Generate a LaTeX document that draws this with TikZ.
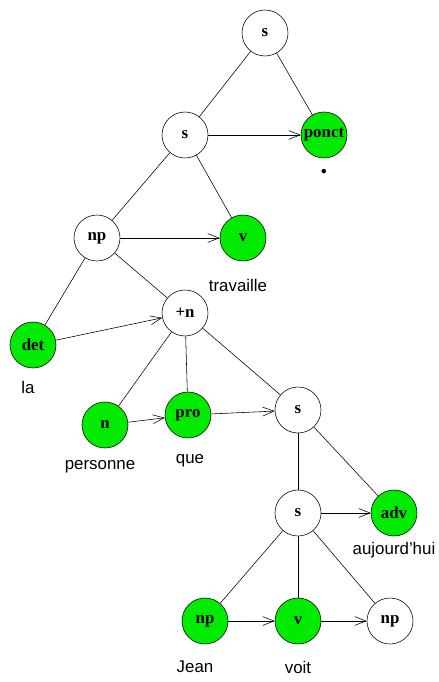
\documentclass[tikz,border=0pt]{standalone}
\usepackage{fontspec}
\setmainfont{Liberation Serif}
\setsansfont{Liberation Sans}
\usetikzlibrary{arrows.meta}

\definecolor{leafgreen}{RGB}{0,235,0}
\tikzset{
  cat/.style={circle, draw, thin, minimum size=1.15cm, inner sep=0pt,
    font=\bfseries\fontsize{12}{12}\selectfont},
  lex/.style={cat, fill=leafgreen},
  word/.style={font=\sffamily\fontsize{12}{12}\selectfont},
  dep/.style={thin},
  seq/.style={thin, -{Straight Barb[length=2.8mm,width=2.2mm]}},
}

\begin{document}
\begin{tikzpicture}[x=0.025cm, y=-0.025cm]
		\useasboundingbox (0,0) rectangle (439,682);
		% Define nodes
		\node[cat]   (s)      at (265,33)   {s};
		\node[cat]   (s2)     at (185,135)  {s};
		\node[lex]   (ponct)  at (324,135)  {ponct};
		\node[cat]   (np)     at (97,238)   {np};
		\node[lex]   (v)      at (243,238)  {v};
		\node[cat]   (plusn)  at (185,313)  {+n};
		\node[lex]   (det)    at (33,345)   {det};
		\node[lex]   (n)      at (105,425)  {n};
		\node[lex]   (pro)    at (188,415)  {pro};
		\node[cat]   (s3)     at (298,410)  {s};
		\node[cat]   (s4)     at (298,513)  {s};
		\node[lex]   (adv)    at (394,513)  {adv};
		\node[lex]   (npj)    at (205,621)  {np};
		\node[lex]   (vv)     at (298,621)  {v};
		\node[cat]   (npo)    at (390,621)  {np};
		% Words
		\node[font=\bfseries\fontsize{20}{20}\selectfont] (wponct) at (324,172) {.};
		\node[word]  (wv)     at (238,285)  {travaille};
		\node[word]  (wdet)   at (28,387)   {la};
		\node[word]  (wn)     at (100,467)  {personne};
		\node[word]  (wpro)   at (190,461)  {que};
		\node[word]  (wadv)   at (394,550)  {aujourd'hui};
		\node[word]  (wnpj)   at (195,667)  {Jean};
		\node[word]  (wvv)    at (298,667)  {voit};
		% Edges
		\foreach \a/\b in {s/s2, s/ponct, s2/np, s2/v, np/det, np/plusn,
		    plusn/n, plusn/pro, plusn/s3, s3/s4, s3/adv, s4/npj, s4/vv, s4/npo}
		  \draw[dep] (\a) -- (\b);
		\foreach \a/\b in {s2/ponct, np/v, det/plusn, n/pro, pro/s3,
		    s4/adv, npj/vv, vv/npo}
		  \draw[seq] (\a) -- (\b);
	\end{tikzpicture}
\end{document}
